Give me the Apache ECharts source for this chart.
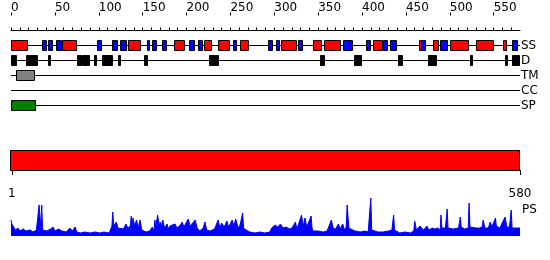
<!DOCTYPE html>
<html><head><meta charset="utf-8">
<script src="https://cdn.jsdelivr.net/npm/echarts@6/dist/echarts.min.js"></script>
<style>html,body{margin:0;padding:0;background:#fff}#c{width:550px;height:260px}</style>
</head><body><div id="c"></div>
<script>
const seqLength = 580;
const tracks = ['SS', 'D', 'TM', 'CC', 'SP'];
const topTicks = [0,50,100,150,200,250,300,350,400,450,500,550];
const bottomTicks = [1, 580];
// secondary structure: start, end, type (H = helix red, E = strand blue)
const ssStart = [1,36,43,52,59,98,116,125,134,156,161,173,186,203,214,221,237,253,262,293,302,308,328,345,357,379,405,413,425,432,466,468,481,489,501,531,561,571];
const ssEnd   = [19,40,48,58,75,103,122,132,148,158,165,178,197,209,218,229,250,256,271,297,305,325,333,354,375,389,409,423,430,439,468,472,487,497,522,550,564,577];
const ssType  = ['H','E','E','E','H','E','E','E','H','E','E','E','H','E','E','H','H','E','H','E','E','H','E','H','H','E','E','H','E','E','H','E','H','E','H','H','H','E'];
// disorder
const dStart = [0,18,43,76,82,95,104,123,152,226,229,353,391,442,476,524,563,572];
const dEnd   = [6,31,45,80,90,97,115,125,155,228,237,357,399,447,485,526,565,580];
// transmembrane
const tmStart = [6];
const tmEnd = [27];
// signal peptide
const spStart = [0];
const spEnd = [27];
// domain bar
const domStart = [1];
const domEnd = [580];
// PS profile
const psPos = [0,1,2,5,8,10,14,17,22,25,29,31,32,34,35,36,41,45,48,50,54,58,63,67,70,73,75,79,84,90,96,101,106,112,115,116,117,120,122,124,128,131,133,136,137,138,139,141,143,145,147,149,150,154,158,161,163,164,165,167,169,170,171,173,175,178,179,181,183,187,189,193,195,197,202,204,206,210,212,215,219,221,223,227,232,236,238,240,243,246,248,252,254,256,259,261,264,265,268,272,278,284,289,295,297,301,304,307,310,313,318,321,324,326,328,331,333,335,337,339,342,343,344,350,356,360,362,365,367,370,373,375,378,380,382,383,385,386,392,398,403,407,409,410,411,412,418,424,430,434,436,437,439,443,449,455,459,460,462,464,466,470,472,474,476,480,483,486,489,490,491,492,495,497,498,500,504,506,510,512,513,515,517,521,522,523,525,530,534,537,538,540,542,544,546,548,550,552,553,555,557,559,563,565,566,568,570,571,573,577,580];
const psVal = [16,12,10,6,8,5,7,5,6,4,6,4,31,8,31,6,5,7,9,5,7,5,4,8,5,9,4,3,4,3,4,3,4,3,10,24,10,14,8,6,7,12,8,10,20,9,18,10,16,8,16,6,4,4,5,9,5,16,8,21,10,14,9,16,8,12,7,10,8,12,8,11,14,9,17,10,12,16,8,5,8,14,6,5,7,16,8,13,9,15,9,16,10,17,8,11,23,8,6,4,3,4,3,4,8,11,9,12,8,9,7,9,14,7,8,21,10,18,9,8,20,8,5,5,4,5,9,16,8,7,12,7,12,6,9,31,8,6,5,4,5,4,6,38,6,5,4,4,5,6,21,6,4,3,4,3,5,15,6,7,10,6,7,10,6,8,7,8,6,21,8,10,8,27,8,6,7,6,8,19,9,10,7,8,33,9,8,8,8,9,16,8,10,8,14,9,10,18,10,12,8,10,19,9,10,9,26,8,8,8,8];

const FONT = 'DejaVu Sans';
const ssColor = { H: '#ff0000', E: '#0000ff' };

function crisp(v) { return Math.round(v - 0.5) + 0.5; }

function boxRenderer(getFill, h) {
  return function (params, api) {
    const s = api.value(0), e = api.value(1), t = api.value(2);
    const p0 = api.coord([s, t]);
    const p1 = api.coord([e, t]);
    const x0 = crisp(p0[0]);
    let w = Math.round(p1[0] - p0[0]);
    if (w < 1) w = 1;
    const y0 = crisp(p0[1] - h / 2);
    return {
      type: 'rect',
      shape: { x: x0, y: y0, width: w, height: h },
      style: { fill: getFill(params.dataIndex), stroke: '#000', lineWidth: 1 }
    };
  };
}

const trackLineData = tracks.map((n, i) => [0, seqLength, i + 1]);
const ssData = ssStart.map((s, i) => [s, ssEnd[i], 1]);
const dData = dStart.map((s, i) => [s, dEnd[i], 2]);
const tmData = tmStart.map((s, i) => [s, tmEnd[i], 3]);
const spData = spStart.map((s, i) => [s, spEnd[i], 5]);
const domData = domStart.map((s, i) => [s, domEnd[i], 0.5]);
const psData = psPos.map((p, i) => [p, psVal[i]]);
const minorTicks = [];
for (let v = 0; v < seqLength; v += 10) minorTicks.push(v);

const chart = echarts.init(document.getElementById('c'), null, { renderer: 'canvas' });
chart.setOption({
  animation: false,
  backgroundColor: '#fff',
  textStyle: { fontFamily: FONT },
  grid: [
    { left: 11, width: 509, top: 30.5, height: 90 },
    { left: 11, width: 509, top: 150, height: 20 },
    { left: 11, width: 509, top: 196, height: 40 }
  ],
  xAxis: [
    { gridIndex: 0, type: 'value', min: 0, max: seqLength, position: 'top', offset: 15,
      axisLine: { show: true, lineStyle: { color: '#000', width: 1 } },
      axisTick: { show: true, length: 3, customValues: minorTicks, lineStyle: { color: '#000' } },
      axisLabel: { show: false }, splitLine: { show: false } },
    { gridIndex: 0, type: 'value', min: 0, max: seqLength, position: 'top', offset: 15,
      axisLine: { show: false },
      axisTick: { show: true, length: 3, customValues: topTicks, lineStyle: { color: '#000' } },
      axisLabel: { show: true, customValues: topTicks, align: 'left', margin: 2, color: '#000', fontSize: 12, fontFamily: FONT },
      splitLine: { show: false } },
    { gridIndex: 1, type: 'value', min: 0, max: seqLength, position: 'bottom', offset: 10,
      axisLine: { show: true, lineStyle: { color: '#000', width: 1 } },
      axisTick: { show: true, length: 5, customValues: bottomTicks, lineStyle: { color: '#000' } },
      axisLabel: { show: true, customValues: bottomTicks, margin: 8, color: '#000', fontSize: 12, fontFamily: FONT },
      splitLine: { show: false } },
    { gridIndex: 2, type: 'value', min: 0, max: seqLength, show: false }
  ],
  yAxis: [
    { gridIndex: 0, type: 'value', inverse: true, min: 0, max: 6, interval: 1, position: 'right',
      axisLine: { show: false }, axisTick: { show: false }, splitLine: { show: false },
      axisLabel: { show: true, margin: 1, color: '#000', fontSize: 12, fontFamily: FONT,
        formatter: v => tracks[v - 1] || '' } },
    { gridIndex: 1, type: 'value', min: 0, max: 1, show: false },
    { gridIndex: 2, type: 'value', min: 0, max: 40, position: 'right', offset: 0,
      axisLine: { show: false, onZero: false }, axisTick: { show: false }, splitLine: { show: false }, axisLabel: { show: false },
      name: 'PS', nameLocation: 'middle', nameRotate: 0, nameGap: 2,
      nameTextStyle: { color: '#000', fontSize: 12, fontFamily: FONT, align: 'left', verticalAlign: 'bottom' } }
  ],
  series: [
    { type: 'custom', xAxisIndex: 0, yAxisIndex: 0, data: trackLineData, silent: true,
      renderItem: function (params, api) {
        const p0 = api.coord([api.value(0), api.value(2)]);
        const p1 = api.coord([api.value(1), api.value(2)]);
        const y = crisp(p0[1]);
        return { type: 'line', shape: { x1: Math.round(p0[0]), y1: y, x2: Math.round(p1[0]), y2: y },
          style: { stroke: '#000', lineWidth: 1 } };
      } },
    { type: 'custom', xAxisIndex: 0, yAxisIndex: 0, data: ssData, silent: true,
      renderItem: boxRenderer(i => ssColor[ssType[i]], 10) },
    { type: 'custom', xAxisIndex: 0, yAxisIndex: 0, data: dData, silent: true,
      renderItem: boxRenderer(() => '#000', 10) },
    { type: 'custom', xAxisIndex: 0, yAxisIndex: 0, data: tmData, silent: true,
      renderItem: boxRenderer(() => '#808080', 10) },
    { type: 'custom', xAxisIndex: 0, yAxisIndex: 0, data: spData, silent: true,
      renderItem: boxRenderer(() => '#008000', 10) },
    { type: 'custom', xAxisIndex: 2, yAxisIndex: 1, data: domData, silent: true,
      renderItem: function (params, api) {
        const p0 = api.coord([api.value(0), 1]);
        const p1 = api.coord([api.value(1), 0]);
        return { type: 'rect', shape: { x: crisp(p0[0]) - 1, y: crisp(p0[1]), width: Math.round(p1[0] - p0[0]) + 1, height: Math.round(p1[1] - p0[1]) },
          style: { fill: '#ff0000', stroke: '#000', lineWidth: 1 } };
      } },
    { type: 'line', xAxisIndex: 3, yAxisIndex: 2, data: psData, symbol: 'none', silent: true,
      lineStyle: { color: '#0000ff', width: 1 }, areaStyle: { color: '#0000ff', opacity: 1 } }
  ]
});
</script></body></html>
